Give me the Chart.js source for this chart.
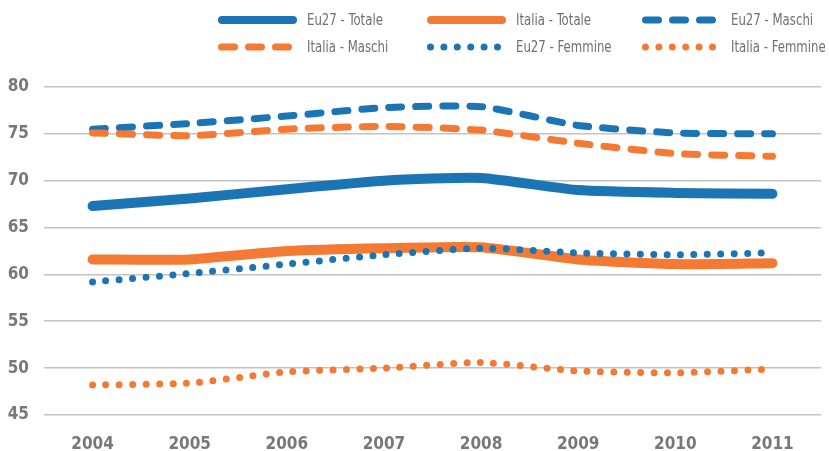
<!DOCTYPE html>
<html>
<head>
<meta charset="utf-8">
<script src="https://cdn.jsdelivr.net/npm/chart.js@4"></script>
<style>
  html, body { margin: 0; padding: 0; background: #fff; }
</style>
</head>
<body>
<canvas id="grafico" width="829" height="451"></canvas>
<script>
// Tassi per anno (valori percentuali)
const anni = ['2004', '2005', '2006', '2007', '2008', '2009', '2010', '2011'];
const eu27Totale    = [67.3, 68.1, 69.1, 70.0, 70.3, 69.0, 68.7, 68.6];
const italiaTotale  = [61.6, 61.6, 62.5, 62.8, 62.9, 61.6, 61.1, 61.2];
const eu27Maschi    = [75.5, 76.1, 76.9, 77.8, 77.9, 75.9, 75.1, 75.0];
const italiaMaschi  = [75.1, 74.8, 75.5, 75.8, 75.4, 74.0, 72.9, 72.6];
const eu27Femmine   = [59.2, 60.1, 61.1, 62.1, 62.8, 62.3, 62.1, 62.3];
const italiaFemmine = [48.2, 48.4, 49.6, 50.0, 50.6, 49.7, 49.5, 49.9];
const tickY = [45, 50, 55, 60, 65, 70, 75, 80];

const BLU = '#1b75b4';
const ARANCIO = '#f47a34';

const serie = [
  { label: 'Eu27 - Totale',    data: eu27Totale,    borderColor: BLU,     borderWidth: 10, borderDash: [] },
  { label: 'Italia - Totale',  data: italiaTotale,  borderColor: ARANCIO, borderWidth: 10, borderDash: [] },
  { label: 'Eu27 - Maschi',    data: eu27Maschi,    borderColor: BLU,     borderWidth: 7,  borderDash: [13, 14] },
  { label: 'Italia - Maschi',  data: italiaMaschi,  borderColor: ARANCIO, borderWidth: 7,  borderDash: [13, 14] },
  { label: 'Eu27 - Femmine',   data: eu27Femmine,   borderColor: BLU,     borderWidth: 7,  borderDash: [0, 13.4] },
  { label: 'Italia - Femmine', data: italiaFemmine, borderColor: ARANCIO, borderWidth: 7,  borderDash: [0, 13.4] }
];

// legenda a griglia: 3 colonne, 2 righe, testo stretto in orizzontale
const legendaGriglia = {
  id: 'legendaGriglia',
  afterDraw(chart, args, opts) {
    const ctx = chart.ctx;
    ctx.save();
    chart.data.datasets.forEach((ds, i) => {
      const col = i % opts.cols.length;
      const row = Math.floor(i / opts.cols.length);
      const x0 = opts.cols[col];
      const y = opts.rows[row];
      const lw = Math.min(ds.borderWidth, 8);
      ctx.strokeStyle = ds.borderColor;
      ctx.lineWidth = lw;
      ctx.lineCap = 'round';
      ctx.setLineDash(ds.borderDash || []);
      ctx.beginPath();
      ctx.moveTo(x0 + lw / 2, y);
      ctx.lineTo(x0 + opts.sampleLength - lw / 2, y);
      ctx.stroke();
      ctx.setLineDash([]);

      ctx.save();
      ctx.translate(x0 + opts.sampleLength + opts.gap, y + 1);
      ctx.scale(opts.stretch, 1);
      ctx.fillStyle = opts.color;
      ctx.font = opts.font;
      ctx.textBaseline = 'middle';
      ctx.fillText(ds.label, 0, 0);
      ctx.restore();
    });
    ctx.restore();
  }
};

const fontAssi = { family: '"DejaVu Sans Condensed", sans-serif', size: 17, weight: 'bold' };

new Chart(document.getElementById('grafico'), {
  type: 'line',
  data: {
    labels: anni,
    datasets: serie.map((s, i) => ({
      ...s,
      order: serie.length - i,
      fill: false,
      tension: 0.18,
      pointRadius: 0,
      pointHoverRadius: 0,
      borderCapStyle: 'round',
      borderJoinStyle: 'round'
    }))
  },
  options: {
    responsive: false,
    animation: false,
    devicePixelRatio: 1,
    layout: { padding: { top: 87, right: 8, left: 0, bottom: 0 } },
    plugins: {
      legend: { display: false },
      tooltip: { enabled: false },
      legendaGriglia: {
        cols: [218, 427, 642],
        rows: [20, 47],
        sampleLength: 79,
        gap: 10,
        stretch: 0.87,
        color: '#707070',
        font: '15px "DejaVu Sans Condensed", sans-serif'
      }
    },
    scales: {
      x: {
        offset: true,
        grid: { display: false },
        border: { display: false },
        ticks: { padding: 11, color: '#787878', font: fontAssi },
        afterFit: (s) => { s.height = 36; }
      },
      y: {
        min: tickY[0],
        max: tickY[tickY.length - 1],
        border: { display: false },
        grid: { color: '#c3c3c3', lineWidth: 1.6, drawTicks: false },
        ticks: {
          stepSize: tickY[1] - tickY[0],
          padding: 15,
          color: '#787878',
          font: fontAssi
        },
        afterFit: (s) => { s.width = 44; }
      }
    }
  },
  plugins: [legendaGriglia]
});
</script>
</body>
</html>
